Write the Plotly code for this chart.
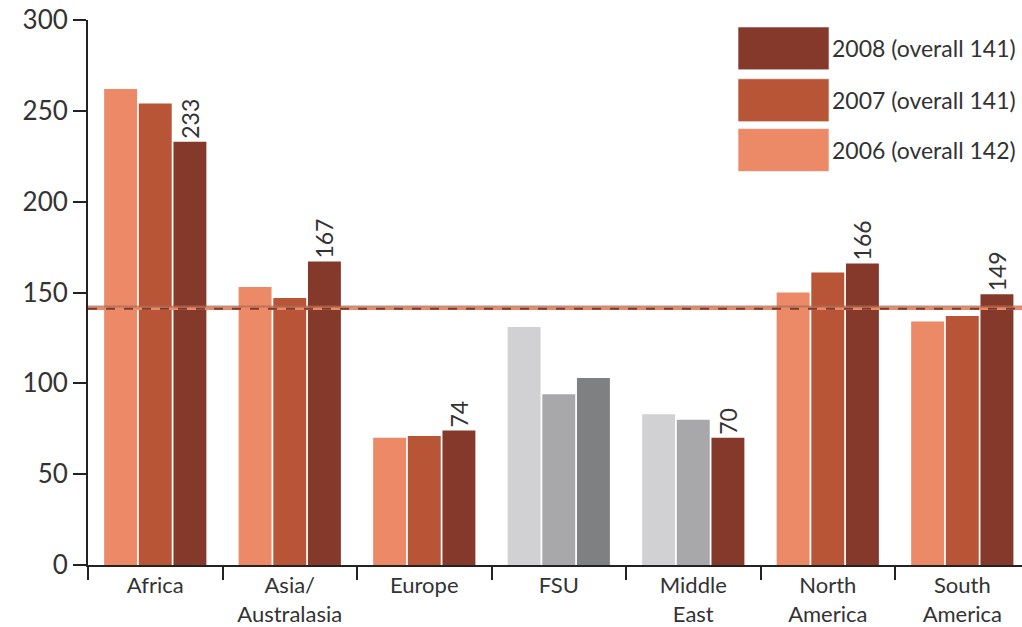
import plotly.graph_objects as go

# Regions and yearly values
regions = ["Africa", "Asia/<br>Australasia", "Europe", "FSU", "Middle<br>East",
           "North<br>America", "South<br>America"]
v2006 = [262, 153, 70, 131, 83, 150, 134]
v2007 = [254, 147, 71, 94, 80, 161, 137]
v2008 = [233, 167, 74, 103, 70, 166, 149]
labels2008 = ["233", "167", "74", "", "70", "166", "149"]

overall = {"2006": 142, "2007": 141, "2008": 141}
legend_names = ["2008 (overall 141)", "2007 (overall 141)", "2006 (overall 142)"]

FONT = "Lato, sans-serif"

# Colours
C06, C07, C08 = "#ec8a68", "#b85537", "#84392b"
G1, G2, G3 = "#d1d1d3", "#a8a8ab", "#7f8082"
col06 = [C06, C06, C06, G1, G1, C06, C06]
col07 = [C07, C07, C07, G2, G2, C07, C07]
col08 = [C08, C08, C08, G3, C08, C08, C08]

fig = go.Figure()
fig.add_trace(go.Bar(x=regions, y=v2006, marker=dict(color=col06, line=dict(width=0)), name="2006"))
fig.add_trace(go.Bar(x=regions, y=v2007, marker=dict(color=col07, line=dict(width=0)), name="2007"))
fig.add_trace(go.Bar(x=regions, y=v2008, marker=dict(color=col08, line=dict(width=0)), name="2008",
                     text=labels2008, textposition="outside", textangle=-90,
                     textfont=dict(family=FONT, size=23, color="#333333"),
                     cliponaxis=False, constraintext="none"))

# Overall average lines across the plot
fig.add_shape(type="line", xref="paper", x0=0, x1=1, yref="y", y0=overall["2006"], y1=overall["2006"],
              line=dict(color="rgba(170,110,85,0.75)", width=3), layer="above")
fig.add_shape(type="line", xref="paper", x0=0, x1=1, yref="y", y0=overall["2007"], y1=overall["2007"],
              line=dict(color=C06, width=2.5), layer="above")
fig.add_shape(type="line", xref="paper", x0=0, x1=1, yref="y", y0=overall["2008"], y1=overall["2008"],
              line=dict(color=C08, width=2, dash="dash"), layer="above")

# Legend boxes with labels
leg_cols = [C08, C07, C06]
box_tops = [27, 79, 129]
for name, col, top in zip(legend_names, leg_cols, box_tops):
    y0 = 1 - (top - 20) / 547
    y1 = 1 - (top + 43 - 20) / 547
    fig.add_shape(type="rect", xref="paper", yref="paper",
                  x0=(738 - 88) / 934, x1=(829 - 88) / 934, y0=y1, y1=y0,
                  fillcolor=col, line=dict(color="rgba(255,255,255,0.6)", width=1), layer="above")
    fig.add_annotation(xref="paper", yref="paper", x=(830 - 88) / 934, y=(y0 + y1) / 2,
                       text=name, showarrow=False, xanchor="left", yanchor="middle",
                       font=dict(family=FONT, size=23, color="#333333"))

fig.update_layout(
    width=1022, height=627,
    margin=dict(l=88, r=0, t=20, b=60),
    paper_bgcolor="white", plot_bgcolor="white",
    barmode="group", bargap=0.227, bargroupgap=0.05,
    showlegend=False,
    xaxis=dict(type="category", range=[-0.5, 6.444], tickson="boundaries",
               ticks="outside", ticklen=13, tickwidth=2, tickcolor="#222222",
               showline=True, linewidth=2, linecolor="#222222", showgrid=False,
               tickfont=dict(family=FONT, size=22, color="#333333")),
    yaxis=dict(range=[0, 300], tickvals=[0, 50, 100, 150, 200, 250, 300],
               ticks="outside", ticklen=13, tickwidth=2, tickcolor="#222222",
               showline=True, linewidth=2, linecolor="#222222", showgrid=False, zeroline=False,
               tickfont=dict(family=FONT, size=26, color="#333333")),
)

fig.write_html("out.html")
